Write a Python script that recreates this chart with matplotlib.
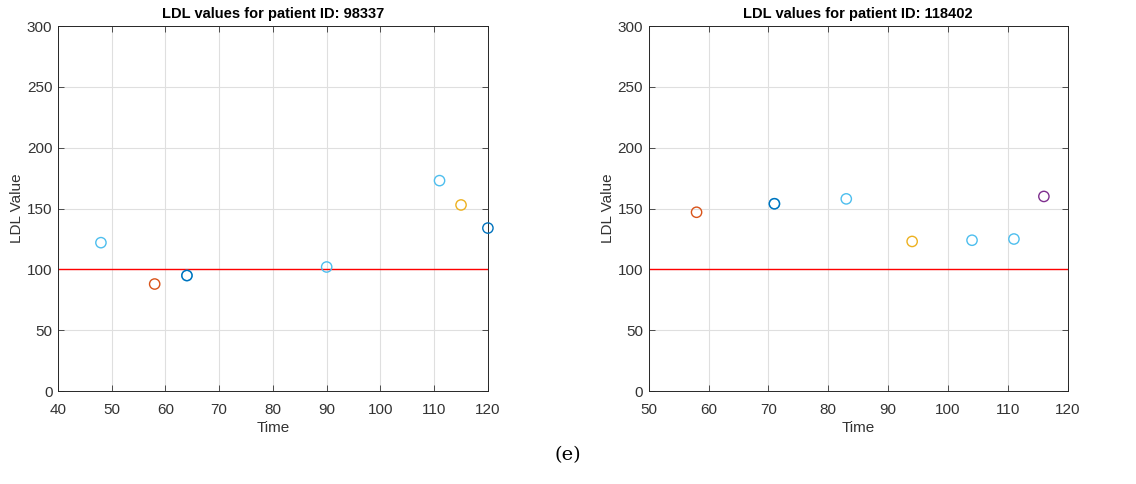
import matplotlib
matplotlib.use("Agg")
import matplotlib.pyplot as plt

plt.rcParams['font.family'] = ['Liberation Sans', 'DejaVu Sans']

# MATLAB default colour order
C_BLUE = '#0072BD'
C_ORANGE = '#D95319'
C_YELLOW = '#EDB120'
C_PURPLE = '#7E2F8E'
C_CYAN = '#4DBEEE'

# Patient 98337
time_a = [48, 58, 64, 64, 90, 111, 115, 120]
ldl_a = [122, 88, 95, 95, 102, 173, 153, 134]
col_a = [C_CYAN, C_ORANGE, C_CYAN, C_BLUE, C_CYAN, C_CYAN, C_YELLOW, C_BLUE]

# Patient 118402
time_b = [58, 71, 71, 83, 94, 104, 111, 116]
ldl_b = [147, 154, 154, 158, 123, 124, 125, 160]
col_b = [C_ORANGE, C_CYAN, C_BLUE, C_CYAN, C_YELLOW, C_CYAN, C_CYAN, C_PURPLE]

threshold = 100
xlim_a = (40, 120)
xlim_b = (50, 120)
yticks = [0, 50, 100, 150, 200, 250, 300]

TXT = '#333333'

fig = plt.figure(figsize=(11.36, 4.84), dpi=100)
ax1 = fig.add_axes([0.051, 0.192, 0.3785, 0.754])
ax2 = fig.add_axes([0.571, 0.192, 0.369, 0.754])

def draw(ax, t, v, cols, xlim, title):
    ax.set_xlim(*xlim)
    ax.set_ylim(0, 300)
    ax.set_yticks(yticks)
    ax.set_xticks(range(xlim[0], xlim[1] + 1, 10))
    ax.grid(True, color='#DFDFDF', linewidth=0.8)
    ax.set_axisbelow(True)
    ax.axhline(threshold, color='#FF0000', linewidth=1.0, zorder=2)
    for x, y, c in zip(t, v, cols):
        ax.scatter([x], [y], s=55, facecolors='none', edgecolors=c,
                   linewidths=1.0, zorder=3, clip_on=False)
    ax.set_title(title, fontsize=10.5, fontweight='bold', pad=6)
    ax.set_xlabel('Time', fontsize=11, color=TXT, labelpad=3)
    ax.set_ylabel('LDL Value', fontsize=11, color=TXT, labelpad=2)
    ax.tick_params(direction='in', top=True, right=True, length=4,
                   width=0.6, labelsize=11, colors=TXT)
    ax.tick_params(axis='x', pad=8.5)
    ax.tick_params(axis='y', pad=4)
    for s in ax.spines.values():
        s.set_linewidth(0.7)
        s.set_color('#262626')

draw(ax1, time_a, ldl_a, col_a, xlim_a, 'LDL values for patient ID: 98337')
draw(ax2, time_b, ldl_b, col_b, xlim_b, 'LDL values for patient ID: 118402')

fig.text(0.5, 0.06, '(e)', ha='center', va='center', fontsize=14,
         family=['DejaVu Serif'])

fig.savefig('out.png', dpi=100)
